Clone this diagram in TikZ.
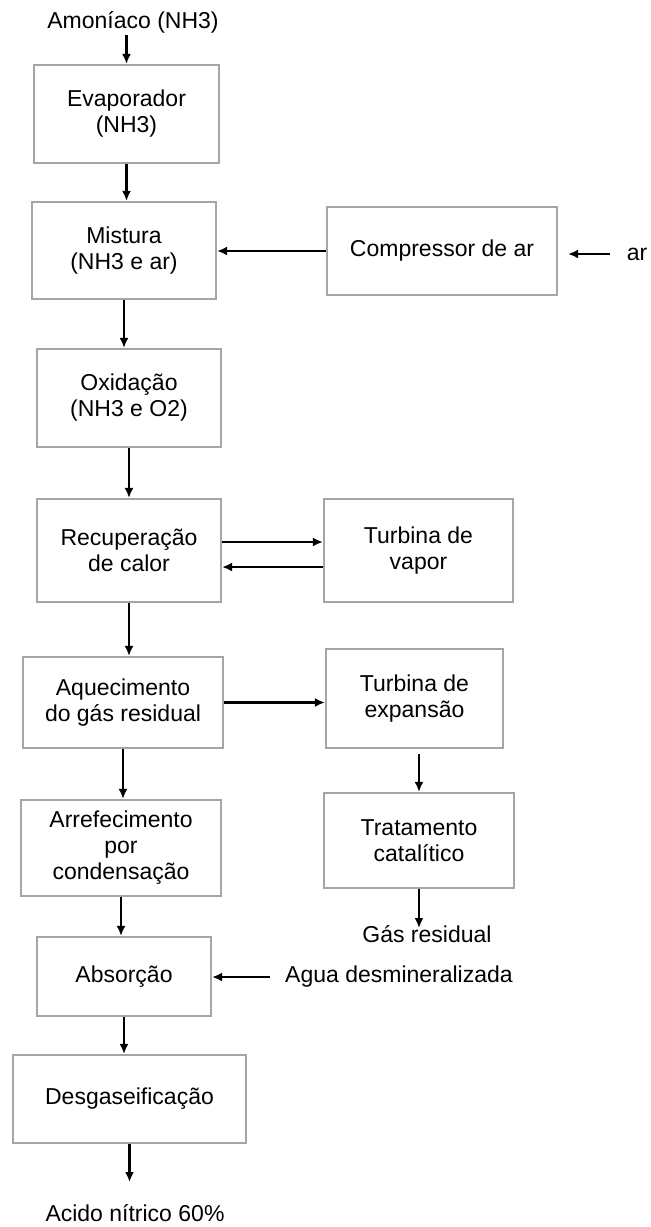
\documentclass[tikz,border=0pt]{standalone}
\usepackage{fontspec}
\setmainfont{Liberation Sans}
\usetikzlibrary{arrows.meta}
\definecolor{boxgray}{RGB}{165,165,165}
\begin{document}
\begin{tikzpicture}[x=1pt,y=-1pt,
  every node/.style={font=\fontsize{23}{26}\selectfont, align=center, inner sep=0pt},
  box/.style={draw=boxgray, line width=2.2pt},
  lbl/.style={},
  arr/.style={draw=black, line width=2.2pt, -{Latex[length=10pt,width=9pt]}}]
\useasboundingbox (0,0) rectangle (651,1227);
% boxes
\node[box, minimum width=185pt, minimum height=98pt] (evap) at (126.5,114) {Evaporador\\(NH3)};
\node[box, minimum width=184pt, minimum height=97pt] (mist) at (124,250.5) {Mistura\\(NH3 e ar)};
\node[box, minimum width=230pt, minimum height=88pt] (comp) at (442,251) {Compressor de ar};
\node[box, minimum width=184pt, minimum height=98pt] (oxid) at (129,398) {Oxidação\\(NH3 e O2)};
\node[box, minimum width=184pt, minimum height=103pt] (recup) at (129,550.5) {Recuperação\\de calor};
\node[box, minimum width=189pt, minimum height=103pt] (tvap) at (418.5,550.5) {Turbina de\\vapor};
\node[box, minimum width=200pt, minimum height=91pt] (aquec) at (123,702.5) {Aquecimento\\do gás residual};
\node[box, minimum width=177pt, minimum height=99pt] (texp) at (414.5,698.5) {Turbina de\\expansão};
\node[box, minimum width=200pt, minimum height=96pt] (arref) at (121,848) {Arrefecimento\\por\\condensação};
\node[box, minimum width=190pt, minimum height=95pt] (trat) at (419,840.5) {Tratamento\\catalítico};
\node[box, minimum width=174pt, minimum height=79pt] (abs) at (124,976.5) {Absorção};
\node[box, minimum width=233pt, minimum height=88pt] (desg) at (129.5,1099) {Desgaseificação};
% labels
\node[lbl] (amon) at (133,22) {Amoníaco (NH3)};
\node[lbl] (ar) at (637,254) {ar};
\node[lbl] (gasres) at (427,934) {Gás residual};
\node[lbl, anchor=west] (agua) at (285,977) {Agua desmineralizada};
\node[lbl] (acido) at (135,1213) {Acido nítrico 60\%};
% connectors
\draw[arr, shorten <=13pt] (evap.north |- amon.center) -- (evap.north);
\draw[arr] (evap.south) -- (evap.south |- mist.north);
\draw[arr] (comp.west) -- (comp.west -| mist.east);
\draw[arr, shorten <=27pt, shorten >=10pt] (ar.center) -- (ar.center -| comp.east);
\draw[arr] (mist.south) -- (mist.south |- oxid.north);
\draw[arr] (oxid.south) -- (oxid.south |- recup.north);
\draw[arr] ([yshift=8.5pt]recup.east) -- ([yshift=8.5pt]tvap.west);
\draw[arr] ([yshift=-16.5pt]tvap.west) -- ([yshift=-16.5pt]recup.east);
\draw[arr] (recup.south) -- (recup.south |- aquec.north);
\draw[arr] (aquec.east) -- (aquec.east -| texp.west);
\draw[arr, shorten <=5pt] (texp.south -| trat.north) -- (trat.north);
\draw[arr, shorten >=6pt] (trat.south) -- (trat.south |- gasres.center);
\draw[arr] (aquec.south) -- (aquec.south |- arref.north);
\draw[arr] (arref.south) -- (arref.south |- abs.north);
\draw[arr, shorten <=15pt] (agua.west) -- (agua.west -| abs.east);
\draw[arr] (abs.south) -- (abs.south |- desg.north);
\draw[arr, shorten >=31pt] (desg.south) -- (desg.south |- acido.center);
\end{tikzpicture}
\end{document}
